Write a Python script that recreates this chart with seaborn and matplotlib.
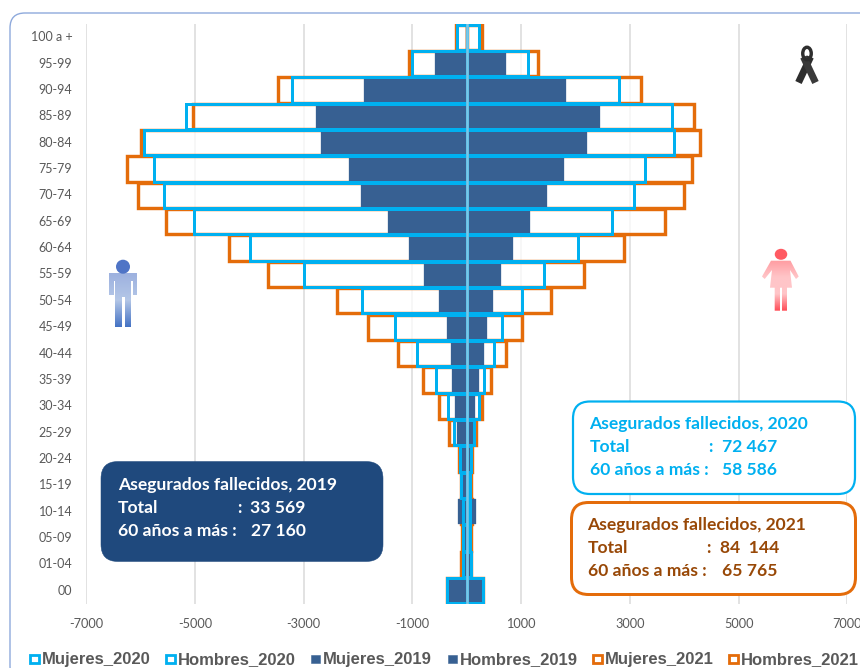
import matplotlib
matplotlib.use("Agg")
import matplotlib.pyplot as plt
import numpy as np
import pandas as pd
import seaborn as sns
from matplotlib.patches import FancyBboxPatch, PathPatch, Circle, Ellipse, Rectangle
from matplotlib.path import Path
from matplotlib.transforms import ScaledTranslation

ages = ["100 a +", "95-99", "90-94", "85-89", "80-84", "75-79", "70-74", "65-69", "60-64", "55-59", "50-54",
        "45-49", "40-44", "35-39", "30-34", "25-29", "20-24", "15-19", "10-14", "05-09", "01-04", "00"]

hombres_2021 = [-200, -1060, -3470, -5030, -6000, -6260, -6050, -5540, -4375, -3655, -2385,
                -1815, -1265, -805, -510, -325, -140, -105, -100, -85, -100, -360]
mujeres_2021 = [280, 1315, 3205, 4180, 4290, 4135, 3995, 3650, 2890, 2155, 1545,
                1010, 715, 440, 285, 165, 90, 70, 100, 70, 75, 290]
hombres_2020 = [-175, -1005, -3220, -5165, -5930, -5750, -5565, -5020, -3995, -2990, -1935,
                -1320, -920, -565, -350, -230, -125, -100, -75, -70, -65, -360]
mujeres_2020 = [220, 1135, 2805, 3770, 3805, 3280, 3075, 2665, 2045, 1425, 1010,
                655, 505, 320, 225, 125, 70, 65, 60, 60, 75, 290]
hombres_2019 = [-20, -590, -1890, -2775, -2680, -2165, -1950, -1445, -1060, -785, -520,
                -370, -295, -270, -225, -175, -95, -75, -155, -50, -50, -350]
mujeres_2019 = [30, 720, 1825, 2450, 2205, 1790, 1480, 1155, 850, 635, 475,
                380, 315, 225, 145, 110, 75, 45, 165, 50, 60, 285]

x_ticks = [-7000, -5000, -3000, -1000, 1000, 3000, 5000, 7000]
legend_labels = ["Mujeres_2020", "Hombres_2020", "Mujeres_2019", "Hombres_2019", "Mujeres_2021", "Hombres_2021"]
legend_x = [42, 178, 323, 460, 605, 741]

box_2019 = ["Asegurados fallecidos, 2019", "Total", "33 569", "60 años a más :", "27 160"]
box_2020 = ["Asegurados fallecidos, 2020", "Total", "72 467", "60 años a más :", "58 586"]
box_2021 = ["Asegurados fallecidos, 2021", "Total", "84  144", "60 años a más :", "65 765"]

BLUE = "#00B0F0"
ORANGE = "#E46C0A"
NAVY = "#376092"
GRAY = "#595959"
W, H = 860, 668

sns.set_theme(style="white")
plt.rcParams["font.family"] = ["Lato", "DejaVu Sans"]

fig = plt.figure(figsize=(W / 100, H / 100), dpi=100)
fig.patch.set_facecolor("white")
ax = fig.add_axes([86.3 / W, 1 - 604 / H, (847.3 - 86.3) / W, (604 - 24) / H])

px = 72 / 100


def bars(vals, face, edge, lw, alpha_face=None):
    df = pd.DataFrame({"edad": ages, "v": vals})
    before = len(ax.patches)
    sns.barplot(data=df, y="edad", x="v", order=ages, orient="h", color=face, width=0.96,
                saturation=1, ax=ax, errorbar=None, zorder=3)
    for p in ax.patches[before:]:
        p.set_facecolor(matplotlib.colors.to_rgba(face, alpha_face if alpha_face is not None else 1))
        p.set_edgecolor(edge)
        p.set_linewidth(lw)


bars(hombres_2021, "white", ORANGE, 3.4 * px, 0.75)
bars(mujeres_2021, "white", ORANGE, 3.4 * px, 0.75)
bars(hombres_2019, NAVY, NAVY, 0.3 * px)
bars(mujeres_2019, NAVY, NAVY, 0.3 * px)
bars(hombres_2020, "white", BLUE, 3.0 * px, 0.0)
bars(mujeres_2020, "white", BLUE, 3.0 * px, 0.0)

ax.axvline(0, color="#7CC6E6", lw=2.6 * px, zorder=6)

ax.set_xlim(-7000, 7000)
ax.set_ylim(len(ages) - 0.5, -0.5)
ax.set_xticks(x_ticks)
ax.set_xticklabels([str(t) for t in x_ticks], fontsize=9.2, color=GRAY)
ax.tick_params(axis="x", length=0, pad=10)
ax.tick_params(axis="y", length=0, pad=10, labelsize=9.0, labelcolor=GRAY)
ax.set_xlabel("")
ax.set_ylabel("")
ax.xaxis.grid(True, color="#D9D9D9", lw=1.5 * px, zorder=0)
ax.yaxis.grid(False)
ax.set_axisbelow(True)
for s in ax.spines.values():
    s.set_visible(False)
ax.patch.set_alpha(0)
up = ScaledTranslation(0, 1 / 100, fig.dpi_scale_trans)
for lab in ax.get_yticklabels():
    lab.set_transform(lab.get_transform() + up)

# overlay in pixel coordinates
ov = fig.add_axes([0, 0, 1, 1], zorder=5)
ov.set_xlim(0, W)
ov.set_ylim(H, 0)
ov.axis("off")
ov.patch.set_alpha(0)

under = fig.add_axes([0, 0, 1, 1], zorder=-5)
under.set_xlim(0, W)
under.set_ylim(H, 0)
under.axis("off")
under.add_patch(FancyBboxPatch((10, 13), W + 30, H, boxstyle="round,pad=0,rounding_size=15",
                               fc="white", ec="#8FAADC", lw=1.4 * px))


def round_box(x0, y0, x1, y1, fc, ec, lw):
    ov.add_patch(FancyBboxPatch((x0, y0), x1 - x0, y1 - y0, boxstyle="round,pad=0,rounding_size=17",
                                fc=fc, ec=ec, lw=lw * px))


def box_text(lines, x, colon_x, n1, n2, ys, color):
    kw = dict(color=color, fontsize=12.6, fontweight="bold", va="center", ha="left")
    ov.text(x, ys[0], lines[0], **kw)
    ov.text(x, ys[1], lines[1], **kw)
    ov.text(colon_x, ys[1], ":", **kw)
    ov.text(n1, ys[1], lines[2], **kw)
    ov.text(x, ys[2], lines[3], **kw)
    ov.text(n2, ys[2], lines[4], **kw)


round_box(101, 461.5, 383, 561.5, "#1F497D", "#1F497D", 0.5)
box_text(box_2019, 118, 237, 250, 251, (485, 508, 531), "white")
round_box(573, 401.5, 855, 494, "white", BLUE, 2.2)
box_text(box_2020, 589.5, 708, 721.5, 722.5, (424, 447, 470), BLUE)
round_box(571.5, 502.5, 855.5, 594.5, "white", ORANGE, 3)
box_text(box_2021, 587.5, 706, 720, 721.5, (525, 548, 571), "#984807")


def gradient(patches, y0, y1, stops):
    cmap = matplotlib.colors.LinearSegmentedColormap.from_list("g", stops)
    x0, x1 = min(p[0] for p in patches[0]), max(p[0] for p in patches[0])
    grad = np.linspace(0, 1, 128).reshape(-1, 1)
    im = ov.imshow(grad, cmap=cmap, extent=(x0 - 20, x1 + 20, y1, y0), aspect="auto", zorder=4, interpolation="bilinear")
    verts, codes = [], []
    for poly in patches:
        verts += list(poly) + [poly[0]]
        codes += [Path.MOVETO] + [Path.LINETO] * (len(poly) - 1) + [Path.CLOSEPOLY]
    im.set_clip_path(PathPatch(Path(verts, codes), transform=ov.transData))


# man
man = [[(109, 273), (137, 273), (137, 295), (132.5, 295), (132.5, 281), (130.5, 281), (130.5, 327), (124.5, 327),
        (124.5, 297), (121.5, 297), (121.5, 327), (115, 327), (115, 281), (113.5, 281), (113.5, 295), (109, 295)]]
gradient(man, 273, 327, ["#9DB1DF", "#B4C7E7", "#4472C4"])
ov.add_patch(Circle((123, 266.7), 7, fc="#4F74C6", ec="none", zorder=4))

# woman
woman = [[(771, 260.7), (790.5, 260.7), (798.7, 276.5), (796, 279), (790, 270), (792, 287.7), (787, 287.7), (787, 310.7),
          (782, 310.7), (782, 287.7), (780, 287.7), (780, 310.7), (774.7, 310.7), (774.7, 287.7), (770, 287.7),
          (772, 270), (764.7, 279), (762, 276.5)]]
gradient(woman, 260, 311, ["#FF9CA1", "#FFC5C8", "#FFC5C8", "#FF4B55"])
ov.add_patch(Ellipse((781, 254.3), 12.5, 11, fc="#FF5A62", ec="none", zorder=4))

# ribbon
ov.plot([798.5, 810.5], [82.5, 57], color="#2E2E2E", lw=7 * px, solid_capstyle="butt", zorder=4)
ov.plot([815.5, 803.5], [82.5, 57], color="#3A3A3A", lw=7 * px, solid_capstyle="butt", zorder=4)
ov.add_patch(Ellipse((807, 53.5), 8.5, 12.5, fc="none", ec="#2E2E2E", lw=3.4 * px, zorder=4))

# legend
colors = [BLUE, BLUE, NAVY, NAVY, ORANGE, ORANGE]
filled = [False, False, True, True, False, False]
for lab, lx, c, f in zip(legend_labels, legend_x, colors, filled):
    ov.add_patch(Rectangle((lx - 12, 654.5), 8.5, 8.5, fc=c if f else "white", ec=c, lw=(0.5 if f else 2.8) * px))
    ov.text(lx, 659.5, lab, fontsize=12.0, fontweight="bold", color=GRAY, va="center", ha="left",
            family=["Liberation Sans", "DejaVu Sans"])

fig.savefig("out.png", dpi=100, facecolor="white")
